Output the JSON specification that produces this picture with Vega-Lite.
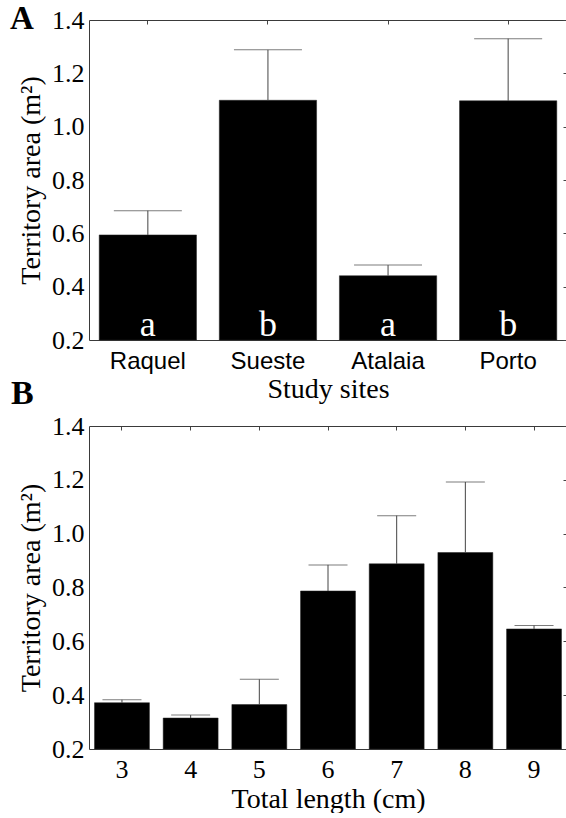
{
  "$schema": "https://vega.github.io/schema/vega-lite/v6.json",
  "padding": {"left": 10, "top": 3, "right": 0, "bottom": 0},
  "background": "white",
  "spacing": -26,
  "config": {
    "font": "Liberation Serif",
    "view": {"stroke": null},
    "axis": {
      "domainColor": "#3a3a3a",
      "grid": false,
      "labelColor": "#000",
      "titleColor": "#000",
      "labelFont": "Liberation Serif",
      "titleFont": "Liberation Serif",
      "labelFontSize": 26,
      "titleFontSize": 28,
      "titleFontWeight": "normal"
    }
  },
  "vconcat": [
    {
      "title": {"text": "A", "anchor": "start", "frame": "group", "fontSize": 33, "fontWeight": "bold", "font": "Liberation Serif", "color": "#000", "dx": -79, "dy": 31, "offset": 2},
      "width": 478,
      "height": 320,
      "data": {"values": [
        {"site": "Raquel", "mean": 0.594, "upper": 0.685, "letter": "a"},
        {"site": "Sueste", "mean": 1.099, "upper": 1.288, "letter": "b"},
        {"site": "Atalaia", "mean": 0.441, "upper": 0.481, "letter": "a"},
        {"site": "Porto", "mean": 1.097, "upper": 1.330, "letter": "b"}
      ]},
      "resolve": {"axis": {"x": "independent", "y": "independent"}},
      "layer": [
        {
          "mark": {"type": "bar", "color": "#000", "stroke": "#222", "strokeWidth": 0.5},
          "encoding": {
            "x": {"field": "site", "type": "nominal", "sort": null,
              "scale": {"paddingInner": 0.19, "paddingOuter": 0.085},
              "axis": {"title": "Study sites", "labelAngle": 0, "ticks": false, "labelFont": "Liberation Sans", "labelFontSize": 24, "labelPadding": 9, "titlePadding": 2}},
            "y": {"field": "mean", "type": "quantitative",
              "scale": {"domain": [0.2, 1.4], "nice": false, "zero": false},
              "axis": {"title": "Territory area (m²)", "values": [0.2, 0.4, 0.6, 0.8, 1.0, 1.2, 1.4], "format": ".1f", "ticks": false, "labelPadding": 5, "titlePadding": 6}},
            "y2": {"datum": 0.2}
          }
        },
        {
          "mark": {"type": "rule", "color": "#444", "strokeWidth": 1},
          "encoding": {
            "x": {"field": "site", "type": "nominal", "sort": null, "axis": null},
            "y": {"field": "mean", "type": "quantitative", "axis": null},
            "y2": {"field": "upper"}
          }
        },
        {
          "mark": {"type": "tick", "color": "#444", "thickness": 1, "size": 68},
          "encoding": {
            "x": {"field": "site", "type": "nominal", "sort": null, "axis": null},
            "y": {"field": "upper", "type": "quantitative", "axis": null}
          }
        },
        {
          "mark": {"type": "text", "color": "#fff", "font": "Liberation Serif", "fontSize": 36, "baseline": "alphabetic", "dy": -4},
          "encoding": {
            "x": {"field": "site", "type": "nominal", "sort": null, "axis": null},
            "y": {"datum": 0.2, "axis": null},
            "text": {"field": "letter"}
          }
        },
        {
          "mark": {"type": "tick", "opacity": 0},
          "encoding": {
            "x": {"field": "site", "type": "nominal", "sort": null,
              "axis": {"orient": "top", "labels": false, "title": null, "tickSize": -4, "tickColor": "#444", "domainColor": "#3a3a3a"}},
            "y": {"field": "mean", "type": "quantitative",
              "axis": {"orient": "right", "labels": false, "title": null, "tickSize": -4, "tickColor": "#444", "values": [0.2, 0.4, 0.6, 0.8, 1.0, 1.2, 1.4]}}
          }
        }
      ]
    },
    {
      "title": {"text": "B", "anchor": "start", "frame": "group", "fontSize": 34, "fontWeight": "bold", "font": "Liberation Serif", "color": "#000", "dx": -78, "dy": 0, "offset": 2},
      "width": 478,
      "height": 323,
      "data": {"values": [
        {"len": 3, "mean": 0.372, "upper": 0.383},
        {"len": 4, "mean": 0.315, "upper": 0.326},
        {"len": 5, "mean": 0.365, "upper": 0.459},
        {"len": 6, "mean": 0.787, "upper": 0.884},
        {"len": 7, "mean": 0.888, "upper": 1.067},
        {"len": 8, "mean": 0.930, "upper": 1.192},
        {"len": 9, "mean": 0.646, "upper": 0.659}
      ]},
      "resolve": {"axis": {"x": "independent", "y": "independent"}},
      "layer": [
        {
          "mark": {"type": "bar", "color": "#000", "stroke": "#222", "strokeWidth": 0.5},
          "encoding": {
            "x": {"field": "len", "type": "ordinal",
              "scale": {"paddingInner": 0.2, "paddingOuter": 0.08},
              "axis": {"title": "Total length (cm)", "labelAngle": 0, "ticks": false, "labelPadding": 7, "titlePadding": 3}},
            "y": {"field": "mean", "type": "quantitative",
              "scale": {"domain": [0.2, 1.4], "nice": false, "zero": false},
              "axis": {"title": "Territory area (m²)", "values": [0.2, 0.4, 0.6, 0.8, 1.0, 1.2, 1.4], "format": ".1f", "ticks": false, "labelPadding": 5, "titlePadding": 6}},
            "y2": {"datum": 0.2}
          }
        },
        {
          "mark": {"type": "rule", "color": "#444", "strokeWidth": 1},
          "encoding": {
            "x": {"field": "len", "type": "ordinal", "axis": null},
            "y": {"field": "mean", "type": "quantitative", "axis": null},
            "y2": {"field": "upper"}
          }
        },
        {
          "mark": {"type": "tick", "color": "#444", "thickness": 1, "size": 39},
          "encoding": {
            "x": {"field": "len", "type": "ordinal", "axis": null},
            "y": {"field": "upper", "type": "quantitative", "axis": null}
          }
        },
        {
          "mark": {"type": "tick", "opacity": 0},
          "encoding": {
            "x": {"field": "len", "type": "ordinal",
              "axis": {"orient": "top", "labels": false, "title": null, "tickSize": -4, "tickColor": "#444", "domainColor": "#3a3a3a"}},
            "y": {"field": "mean", "type": "quantitative",
              "axis": {"orient": "right", "labels": false, "title": null, "tickSize": -4, "tickColor": "#444", "values": [0.2, 0.4, 0.6, 0.8, 1.0, 1.2, 1.4]}}
          }
        }
      ]
    }
  ]
}
